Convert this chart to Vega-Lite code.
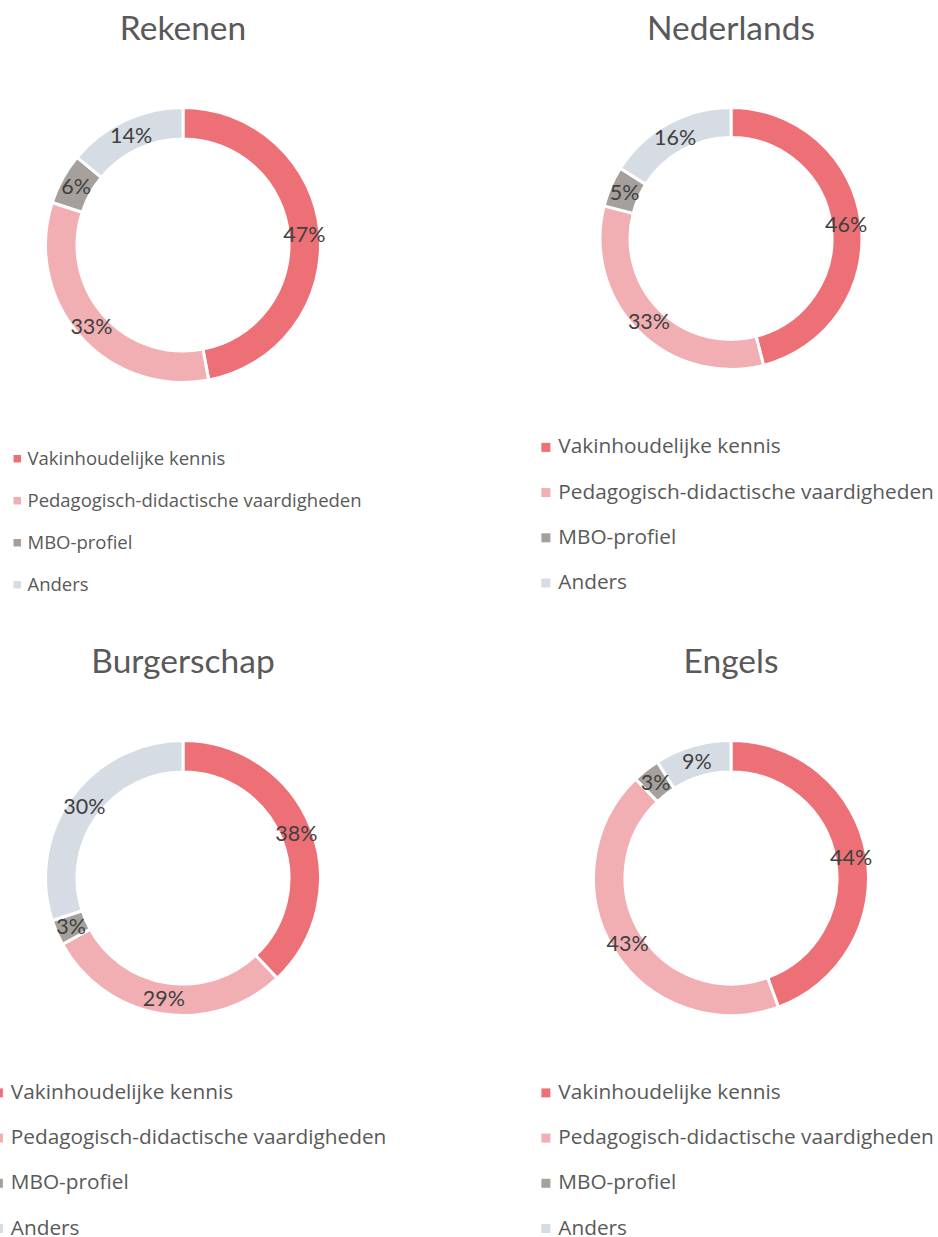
{
  "$schema": "https://vega.github.io/schema/vega-lite/v6.json",
  "width": 938,
  "height": 1237,
  "padding": 0,
  "autosize": {"type": "none"},
  "background": "white",
  "config": {"view": {"stroke": null}, "font": "Lato"},
  "datasets": {
    "shares": [
      {"vak": "Rekenen", "col": "L", "row": "T", "ord": 1, "cat": "Vakinhoudelijke kennis", "share": 0.47},
      {"vak": "Rekenen", "col": "L", "row": "T", "ord": 2, "cat": "Pedagogisch-didactische vaardigheden", "share": 0.33},
      {"vak": "Rekenen", "col": "L", "row": "T", "ord": 3, "cat": "MBO-profiel", "share": 0.06},
      {"vak": "Rekenen", "col": "L", "row": "T", "ord": 4, "cat": "Anders", "share": 0.14},
      {"vak": "Nederlands", "col": "R", "row": "T", "ord": 1, "cat": "Vakinhoudelijke kennis", "share": 0.46},
      {"vak": "Nederlands", "col": "R", "row": "T", "ord": 2, "cat": "Pedagogisch-didactische vaardigheden", "share": 0.33},
      {"vak": "Nederlands", "col": "R", "row": "T", "ord": 3, "cat": "MBO-profiel", "share": 0.05},
      {"vak": "Nederlands", "col": "R", "row": "T", "ord": 4, "cat": "Anders", "share": 0.16},
      {"vak": "Burgerschap", "col": "L", "row": "B", "ord": 1, "cat": "Vakinhoudelijke kennis", "share": 0.38},
      {"vak": "Burgerschap", "col": "L", "row": "B", "ord": 2, "cat": "Pedagogisch-didactische vaardigheden", "share": 0.29},
      {"vak": "Burgerschap", "col": "L", "row": "B", "ord": 3, "cat": "MBO-profiel", "share": 0.03},
      {"vak": "Burgerschap", "col": "L", "row": "B", "ord": 4, "cat": "Anders", "share": 0.30},
      {"vak": "Engels", "col": "R", "row": "B", "ord": 1, "cat": "Vakinhoudelijke kennis", "share": 0.444},
      {"vak": "Engels", "col": "R", "row": "B", "ord": 2, "cat": "Pedagogisch-didactische vaardigheden", "share": 0.434},
      {"vak": "Engels", "col": "R", "row": "B", "ord": 3, "cat": "MBO-profiel", "share": 0.032},
      {"vak": "Engels", "col": "R", "row": "B", "ord": 4, "cat": "Anders", "share": 0.090}
    ]
  },
  "data": {"name": "shares"},
  "resolve": {"scale": {"color": "independent"}, "legend": {"color": "independent"}},
  "layer": [
    {
      "data": {"values": [
        {"vak": "Rekenen", "col": "L", "row": "T"},
        {"vak": "Nederlands", "col": "R", "row": "T"},
        {"vak": "Burgerschap", "col": "L", "row": "B"},
        {"vak": "Engels", "col": "R", "row": "B"}
      ]},
      "mark": {"type": "text", "fontSize": 33.5, "color": "#595959", "baseline": "alphabetic", "align": "center", "dy": -205.5},
      "encoding": {
        "x": {"field": "col", "type": "nominal", "scale": {"type": "point", "domain": ["L", "R"], "range": [183, 731], "padding": 0}, "axis": null},
        "y": {"field": "row", "type": "nominal", "scale": {"type": "point", "domain": ["T", "B"], "range": [245, 878], "padding": 0}, "axis": null},
        "text": {"field": "vak"}
      }
    },
    {
      "transform": [{"filter": "datum.vak === 'Rekenen'"}],
      "encoding": {
        "x": {"field": "col", "type": "nominal", "scale": {"type": "point", "domain": ["L", "R"], "range": [183, 731], "padding": 0}, "axis": null},
        "y": {"field": "row", "type": "nominal", "scale": {"type": "point", "domain": ["T", "B"], "range": [245, 878], "padding": 0}, "axis": null},
        "theta": {"field": "share", "type": "quantitative", "stack": true, "scale": {"domain": [0, 1]}},
        "order": {"field": "ord", "type": "quantitative"}
      },
      "layer": [
        {
          "mark": {"type": "arc", "innerRadius": 106, "outerRadius": 137.5, "stroke": "white", "strokeWidth": 3},
          "encoding": {
            "color": {
              "field": "cat", "type": "nominal",
              "scale": {"domain": ["Vakinhoudelijke kennis", "Pedagogisch-didactische vaardigheden", "MBO-profiel", "Anders"], "range": ["#EE7077", "#F2AFB3", "#A5A09C", "#D6DCE4"]},
              "legend": {"orient": "none", "legendX": 8, "legendY": 449.5, "title": null, "padding": 0, "symbolType": "square", "symbolSize": 56, "symbolStrokeWidth": 0, "labelFontSize": 18.5, "labelColor": "#595959", "labelFont": "Open Sans", "labelOffset": 1, "rowPadding": 23, "labelLimit": 600}
            }
          }
        },
        {
          "mark": {"type": "text", "radius": 122, "fontSize": 21.5, "color": "#404040", "dy": 2},
          "encoding": {"detail": {"field": "cat"}, "text": {"field": "share", "type": "quantitative", "format": ".0%"}}
        }
      ]
    },
    {
      "transform": [{"filter": "datum.vak === 'Nederlands'"}],
      "encoding": {
        "x": {"field": "col", "type": "nominal", "scale": {"type": "point", "domain": ["L", "R"], "range": [183, 731], "padding": 0}, "axis": null},
        "y": {"field": "row", "type": "nominal", "scale": {"type": "point", "domain": ["T", "B"], "range": [245, 878], "padding": 0}, "axis": null},
        "theta": {"field": "share", "type": "quantitative", "stack": true, "scale": {"domain": [0, 1]}},
        "order": {"field": "ord", "type": "quantitative"}
      },
      "layer": [
        {
          "mark": {"type": "arc", "innerRadius": 101, "outerRadius": 131, "stroke": "white", "strokeWidth": 3, "yOffset": -6.5},
          "encoding": {
            "color": {
              "field": "cat", "type": "nominal",
              "scale": {"domain": ["Vakinhoudelijke kennis", "Pedagogisch-didactische vaardigheden", "MBO-profiel", "Anders"], "range": ["#EE7077", "#F2AFB3", "#A5A09C", "#D6DCE4"]},
              "legend": {"orient": "none", "legendX": 535.5, "legendY": 437, "title": null, "padding": 0, "symbolType": "square", "symbolSize": 81, "symbolStrokeWidth": 0, "labelFontSize": 20.8, "labelColor": "#595959", "labelFont": "Open Sans", "labelOffset": 2, "rowPadding": 23.2, "labelLimit": 600}
            }
          }
        },
        {
          "mark": {"type": "text", "radius": 116, "fontSize": 21.5, "color": "#404040", "yOffset": -6.5, "dy": 2},
          "encoding": {"detail": {"field": "cat"}, "text": {"field": "share", "type": "quantitative", "format": ".0%"}}
        }
      ]
    },
    {
      "transform": [{"filter": "datum.vak === 'Burgerschap'"}],
      "encoding": {
        "x": {"field": "col", "type": "nominal", "scale": {"type": "point", "domain": ["L", "R"], "range": [183, 731], "padding": 0}, "axis": null},
        "y": {"field": "row", "type": "nominal", "scale": {"type": "point", "domain": ["T", "B"], "range": [245, 878], "padding": 0}, "axis": null},
        "theta": {"field": "share", "type": "quantitative", "stack": true, "scale": {"domain": [0, 1]}},
        "order": {"field": "ord", "type": "quantitative"}
      },
      "layer": [
        {
          "mark": {"type": "arc", "innerRadius": 106, "outerRadius": 137.5, "stroke": "white", "strokeWidth": 3},
          "encoding": {
            "color": {
              "field": "cat", "type": "nominal",
              "scale": {"domain": ["Vakinhoudelijke kennis", "Pedagogisch-didactische vaardigheden", "MBO-profiel", "Anders"], "range": ["#EE7077", "#F2AFB3", "#A5A09C", "#D6DCE4"]},
              "legend": {"orient": "none", "legendX": -12, "legendY": 1082.5, "title": null, "padding": 0, "symbolType": "square", "symbolSize": 81, "symbolStrokeWidth": 0, "labelFontSize": 20.8, "labelColor": "#595959", "labelFont": "Open Sans", "labelOffset": 2, "rowPadding": 23.2, "labelLimit": 600}
            }
          }
        },
        {
          "mark": {"type": "text", "radius": 122, "fontSize": 21.5, "color": "#404040", "dy": 2},
          "encoding": {"detail": {"field": "cat"}, "text": {"field": "share", "type": "quantitative", "format": ".0%"}}
        }
      ]
    },
    {
      "transform": [{"filter": "datum.vak === 'Engels'"}],
      "encoding": {
        "x": {"field": "col", "type": "nominal", "scale": {"type": "point", "domain": ["L", "R"], "range": [183, 731], "padding": 0}, "axis": null},
        "y": {"field": "row", "type": "nominal", "scale": {"type": "point", "domain": ["T", "B"], "range": [245, 878], "padding": 0}, "axis": null},
        "theta": {"field": "share", "type": "quantitative", "stack": true, "scale": {"domain": [0, 1]}},
        "order": {"field": "ord", "type": "quantitative"}
      },
      "layer": [
        {
          "mark": {"type": "arc", "innerRadius": 106, "outerRadius": 137.5, "stroke": "white", "strokeWidth": 3},
          "encoding": {
            "color": {
              "field": "cat", "type": "nominal",
              "scale": {"domain": ["Vakinhoudelijke kennis", "Pedagogisch-didactische vaardigheden", "MBO-profiel", "Anders"], "range": ["#EE7077", "#F2AFB3", "#A5A09C", "#D6DCE4"]},
              "legend": {"orient": "none", "legendX": 535.5, "legendY": 1082.5, "title": null, "padding": 0, "symbolType": "square", "symbolSize": 81, "symbolStrokeWidth": 0, "labelFontSize": 20.8, "labelColor": "#595959", "labelFont": "Open Sans", "labelOffset": 2, "rowPadding": 23.2, "labelLimit": 600}
            }
          }
        },
        {
          "mark": {"type": "text", "radius": 122, "fontSize": 21.5, "color": "#404040", "dy": 2},
          "encoding": {"detail": {"field": "cat"}, "text": {"field": "share", "type": "quantitative", "format": ".0%"}}
        }
      ]
    }
  ]
}
